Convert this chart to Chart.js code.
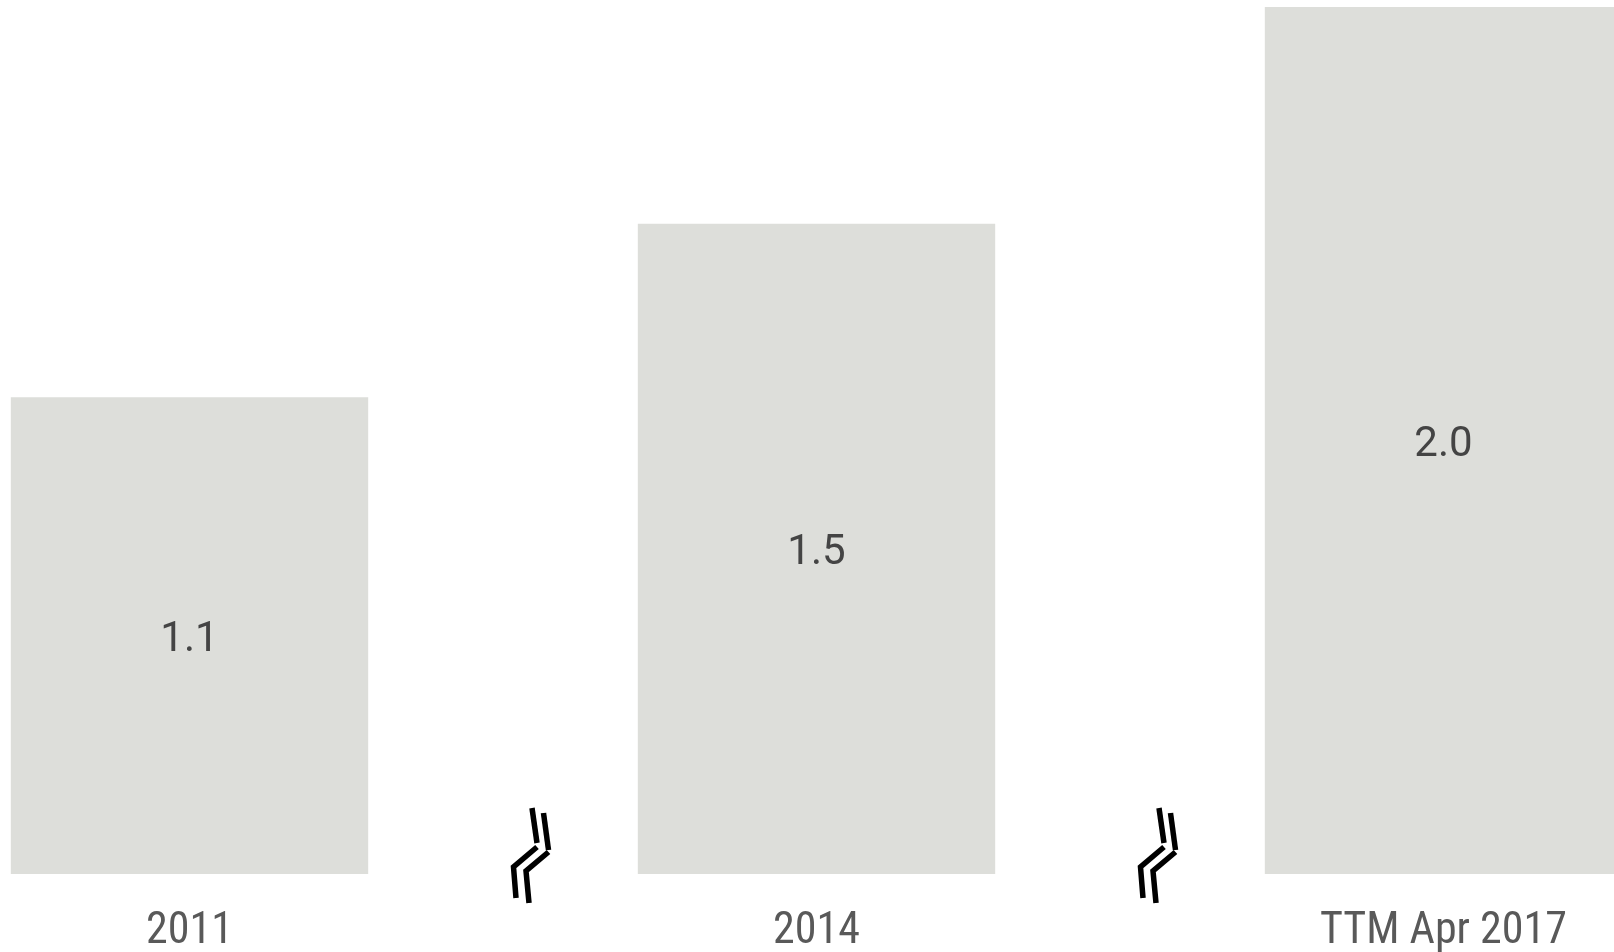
<!DOCTYPE html>
<html>
<head>
<meta charset="utf-8">
<script src="https://cdn.jsdelivr.net/npm/chart.js@4.4.1/dist/chart.umd.min.js"></script>
<style>
  html, body { margin: 0; padding: 0; background: #fff; overflow: hidden; }
  body { width: 1614px; height: 952px; position: relative; }
  /* plot is wider than the page so the last bar runs off the right edge */
  #wrap { position: absolute; left: -124px; top: 0; width: 1881px; height: 952px; }
</style>
</head>
<body>
<div id="wrap"><canvas id="bars"></canvas></div>
<script>
var periods = ["2011", "2014", "TTM Apr 2017"];
var values = [1.1, 1.5, 2.0];
var valueLabels = ["1.1", "1.5", "2.0"];

// centred value text inside each bar
var barValues = {
    id: 'barValues',
    afterDatasetsDraw: function(chart) {
        var ctx = chart.ctx;
        var meta = chart.getDatasetMeta(0);
        ctx.save();
        ctx.font = '400 42px Roboto';
        ctx.fillStyle = '#444444';
        ctx.textAlign = 'center';
        ctx.textBaseline = 'alphabetic';
        meta.data.forEach(function(bar, i) {
            // baseline half a cap height below the bar's middle
            ctx.fillText(valueLabels[i], bar.x, (bar.y + bar.base) / 2 + 15);
        });
        ctx.restore();
    }
};

// axis-break marks between the periods
var axisBreaks = {
    id: 'axisBreaks',
    afterDraw: function(chart) {
        var ctx = chart.ctx;
        var x = chart.scales.x;
        var base = chart.chartArea.bottom;
        var strokes = [
            [[[29, -66], [34, -31]], [[34, -27], [10.5, -7], [13, 24]]],
            [[[40.5, -61], [45.5, -24]], [[45.5, -22], [23, -3], [26, 29]]]
        ];
        ctx.save();
        ctx.strokeStyle = '#000';
        ctx.lineWidth = 5.5;
        ctx.lineJoin = 'miter';
        ctx.lineCap = 'butt';
        for (var i = 0; i < periods.length - 1; i++) {
            var mid = (x.getPixelForValue(i) + x.getPixelForValue(i + 1)) / 2;
            strokes.forEach(function(s) {
                s.forEach(function(seg) {
                    ctx.beginPath();
                    seg.forEach(function(p, k) {
                        if (k === 0) ctx.moveTo(mid + p[0], base + p[1]);
                        else ctx.lineTo(mid + p[0], base + p[1]);
                    });
                    ctx.stroke();
                });
            });
        }
        ctx.restore();
    }
};

new Chart(document.getElementById('bars'), {
    type: 'bar',
    data: {
        labels: periods,
        datasets: [{
            data: values,
            backgroundColor: '#dddeda',
            borderWidth: 0,
            categoryPercentage: 1,
            barPercentage: 0.57
        }]
    },
    options: {
        responsive: true,
        maintainAspectRatio: false,
        animation: false,
        layout: { padding: { top: 7, left: 0, right: 0, bottom: 0 } },
        plugins: { legend: { display: false }, tooltip: { enabled: false } },
        scales: {
            x: {
                grid: { display: false },
                border: { display: false },
                ticks: {
                    color: '#595959',
                    font: { family: '"Roboto Condensed", Roboto', size: 44 },
                    padding: 24,
                    maxRotation: 0
                },
                afterFit: function(scale) { scale.height = 78; }
            },
            y: {
                display: false,
                min: 0,
                max: 2.0
            }
        }
    },
    plugins: [barValues, axisBreaks]
});
</script>
</body>
</html>
